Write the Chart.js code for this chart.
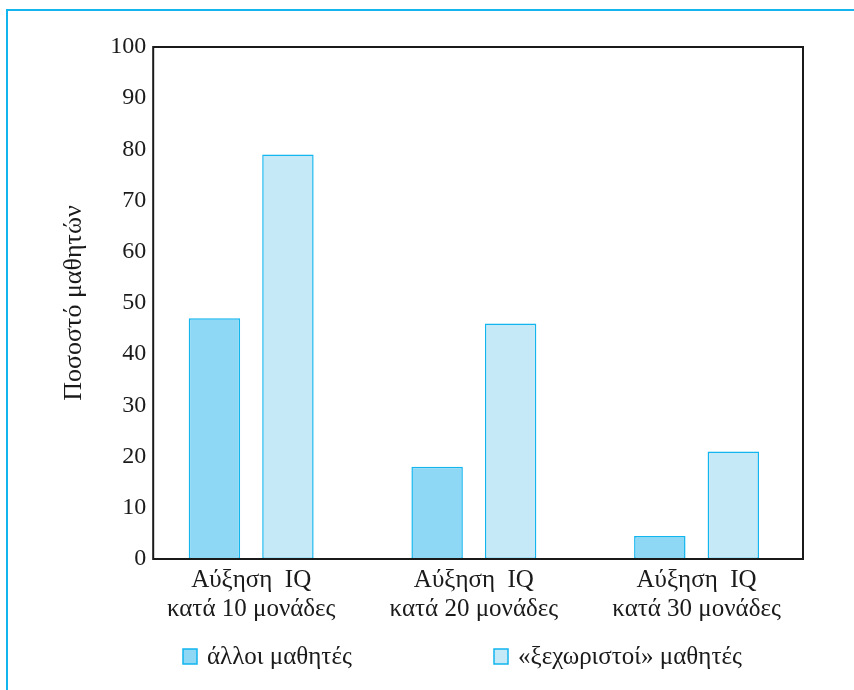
<!DOCTYPE html>
<html>
<head>
<meta charset="utf-8">
<script src="https://cdn.jsdelivr.net/npm/chart.js@4"></script>
<style>
  body { margin: 0; background: #fff; }
  #wrap { position: relative; width: 854px; height: 690px; }
  #frame { position: absolute; left: 6px; top: 9px; right: 0; bottom: 0;
           border-top: 2px solid #12b5ee; border-left: 2px solid #12b5ee; pointer-events: none; }
  canvas { position: absolute; left: 0; top: 0; }
</style>
</head>
<body>
<div id="wrap">
  <canvas id="iqChart" width="854" height="690"></canvas>
  <div id="frame"></div>
</div>
<script>
// Κατηγορίες (άξονας x)
var categories = [
    ['Αύξηση  IQ', 'κατά 10 μονάδες'],
    ['Αύξηση  IQ', 'κατά 20 μονάδες'],
    ['Αύξηση  IQ', 'κατά 30 μονάδες']
];
var seriesNames = ['άλλοι μαθητές', '«ξεχωριστοί» μαθητές'];
var otherStudents = [47, 18, 4.5];
var specialStudents = [79, 46, 21];
var yTicks = [0, 10, 20, 30, 40, 50, 60, 70, 80, 90, 100];

var serif = 'Liberation Serif, Times New Roman, serif';
var edge = '#12b5ee';

function toPoints(values) {
    return values.map(function (v, i) { return { x: i + 1, y: v }; });
}

// Πλαίσιο γύρω από την περιοχή του γραφήματος
var boxPlugin = {
    id: 'boxPlugin',
    afterDraw: function (chart) {
        var a = chart.chartArea, ctx = chart.ctx;
        ctx.save();
        ctx.strokeStyle = '#1a1a1a';
        ctx.lineWidth = 2;
        ctx.strokeRect(a.left, a.top, a.right - a.left, a.bottom - a.top);
        ctx.restore();
    }
};

// Υπόμνημα κάτω από το γράφημα
var legendPlugin = {
    id: 'legendPlugin',
    afterDraw: function (chart) {
        var ctx = chart.ctx;
        var xs = [183, 494];
        var y = 649;
        ctx.save();
        ctx.font = '25px ' + serif;
        ctx.textBaseline = 'middle';
        chart.data.datasets.forEach(function (ds, i) {
            ctx.fillStyle = ds.backgroundColor;
            ctx.fillRect(xs[i], y, 14, 15);
            ctx.strokeStyle = ds.borderColor;
            ctx.lineWidth = 1.5;
            ctx.strokeRect(xs[i], y, 14, 15);
            ctx.fillStyle = '#1a1a1a';
            ctx.fillText(ds.label, xs[i] + 24, y + 8);
        });
        ctx.restore();
    }
};

var iqChart = new Chart(document.getElementById('iqChart'), {
    type: 'bar',
    data: {
        datasets: [{
            label: seriesNames[0],
            data: toPoints(otherStudents),
            backgroundColor: '#8fd8f5',
            borderColor: edge,
            borderWidth: 1.5,
            borderSkipped: false
        }, {
            label: seriesNames[1],
            data: toPoints(specialStudents),
            backgroundColor: '#c6e9f8',
            borderColor: edge,
            borderWidth: 1.5,
            borderSkipped: false
        }]
    },
    options: {
        responsive: false,
        animation: false,
        categoryPercentage: 0.66,
        barPercentage: 0.70,
        layout: { padding: { left: 59, right: 51, top: 47, bottom: 60 } },
        plugins: {
            legend: { display: false },
            tooltip: { enabled: false }
        },
        scales: {
            x: {
                type: 'linear',
                bounds: 'data',
                offset: false,
                min: 0.56,
                max: 3.478,
                grid: { display: false, drawTicks: false, offset: false },
                border: { display: false },
                afterBuildTicks: function (axis) {
                    axis.ticks = categories.map(function (c, i) { return { value: i + 1 }; });
                },
                ticks: {
                    autoSkip: false,
                    maxRotation: 0,
                    padding: 6.5,
                    color: '#1a1a1a',
                    font: { family: serif, size: 25, lineHeight: 1.16 },
                    callback: function (v) { return categories[Math.round(v) - 1] || ''; }
                }
            },
            y: {
                min: 0,
                max: 100,
                grid: { display: false, drawTicks: false },
                border: { display: false },
                afterBuildTicks: function (axis) {
                    axis.ticks = yTicks.map(function (v) { return { value: v }; });
                },
                ticks: {
                    padding: 7,
                    color: '#1a1a1a',
                    font: { family: serif, size: 24 }
                },
                title: {
                    display: true,
                    text: 'Ποσοστό μαθητών',
                    color: '#1a1a1a',
                    padding: { top: 0, bottom: 13 },
                    font: { family: serif, size: 26 }
                }
            }
        }
    },
    plugins: [boxPlugin, legendPlugin]
});
</script>
</body>
</html>
